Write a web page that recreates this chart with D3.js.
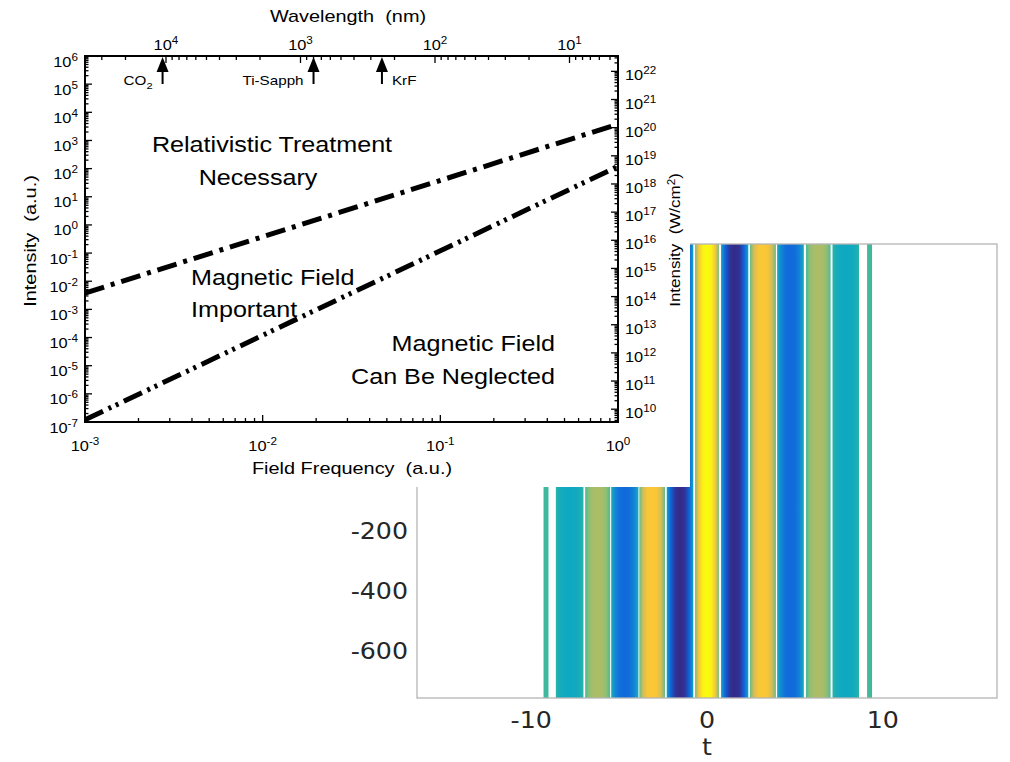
<!DOCTYPE html>
<html>
<head>
<meta charset="utf-8">
<script src="https://cdn.jsdelivr.net/npm/d3@7"></script>
<style>
  body { margin: 0; background: #fff; }
  svg { display: block; }
  text { white-space: pre; }
</style>
</head>
<body>
<div id="chart"></div>
<script>
// log-log chart (front)
var freq = [1e-3, 1];
var relativistic = [3.8e-3, 3.8e3];
var magnetic = [1.2e-7, 120];
var leftExp = [-7, -6, -5, -4, -3, -2, -1, 0, 1, 2, 3, 4, 5, 6];
var rightExp = [10, 11, 12, 13, 14, 15, 16, 17, 18, 19, 20, 21, 22];
var bottomExp = [-3, -2, -1, 0];
var topExp = [4, 3, 2, 1];
var lasers = ['CO', 'Ti-Sapph', 'KrF'];
var laserWavelength = [10600, 800, 248];
var wcm2PerAu = 3.51e16;

// heatmap (behind)
var bandStart = [-9.30, -8.60, -6.93, -5.45, -3.85, -2.29, -0.68, 0.80, 2.44, 3.99, 5.63, 7.14, 9.11];
var bandEnd   = [-9.02, -7.03, -5.51, -3.90, -2.39, -0.78, 0.68, 2.35, 3.92, 5.51, 7.03, 8.65, 9.39];
var bandValue = [0.53, 0.40, 0.69, 0.17, 0.87, 0.0, 1.0, 0.0, 0.87, 0.17, 0.69, 0.40, 0.53];
var tTicks = [-10, 0, 10];
var zTicks = [-200, -400, -600];

var width = 1010,
    height = 762,
    svg = null,
    txtFont = '"Liberation Sans", Arial, Helvetica, sans-serif';

var parula = d3.scaleLinear()
    .domain(d3.range(9).map(function(i) { return i / 8; }))
    .range(['#352a87', '#0f5cdd', '#1481d6', '#06a4ca', '#2eb7a4', '#87bf77', '#d1bb59', '#fec832', '#f9fb0e'])
    .clamp(true);

function init() {
    svg = d3.select('#chart').append('svg')
        .attr('width', width)
        .attr('height', height);
    drawHeatmap();
    // the log chart sits on a white card over the heatmap
    svg.append('rect')
        .attr('x', 0).attr('y', 0)
        .attr('width', 690).attr('height', 487)
        .attr('fill', '#fff');
    drawLogChart();
}

function drawHeatmap() {
    var hx = d3.scaleLinear().domain([-16.5, 16.5]).range([417, 997]);
    var hy = d3.scaleLinear().domain([-757, 757]).range([698, 244]);
    var defs = svg.append('defs');
    var stopPos = [0, 0.15, 0.32, 0.5, 0.68, 0.85, 1];
    var stopW = [0.2, 0.7, 0.95, 1, 0.95, 0.7, 0.2];

    bandValue.forEach(function(v, i) {
        var g = defs.append('linearGradient')
            .attr('id', 'band' + i)
            .attr('x1', '0%').attr('x2', '100%').attr('y1', '0%').attr('y2', '0%');
        stopPos.forEach(function(p, k) {
            g.append('stop')
                .attr('offset', (p * 100) + '%')
                .attr('stop-color', parula(0.5 + (v - 0.5) * stopW[k]));
        });
    });

    svg.append('g').selectAll('rect')
        .data(bandValue)
        .enter().append('rect')
        .attr('x', function(d, i) { return hx(bandStart[i]); })
        .attr('width', function(d, i) { return hx(bandEnd[i]) - hx(bandStart[i]); })
        .attr('y', hy(757))
        .attr('height', hy(-757) - hy(757))
        .attr('fill', function(d, i) { return 'url(#band' + i + ')'; });

    svg.append('rect')
        .attr('x', 417).attr('y', 244)
        .attr('width', 580).attr('height', 454)
        .attr('fill', 'none')
        .attr('stroke', '#b4b4b4')
        .attr('stroke-width', 1.3);

    var labFont = '"DejaVu Sans", Verdana, sans-serif';
    svg.append('g').selectAll('text')
        .data(tTicks)
        .enter().append('text')
        .attr('transform', function(d) { return 'translate(' + hx(d) + ',728) scale(1.1,1)'; })
        .attr('text-anchor', 'middle')
        .style('font-family', labFont).style('font-size', '23px')
        .attr('fill', '#262626')
        .text(function(d) { return d; });
    svg.append('g').selectAll('text')
        .data(zTicks)
        .enter().append('text')
        .attr('transform', function(d) { return 'translate(408,' + (hy(d) + 8.5) + ') scale(1.1,1)'; })
        .attr('text-anchor', 'end')
        .style('font-family', labFont).style('font-size', '23px')
        .attr('fill', '#262626')
        .text(function(d) { return d; });
    svg.append('text')
        .attr('transform', 'translate(' + hx(0) + ',755) scale(1.1,1)')
        .attr('text-anchor', 'middle')
        .style('font-family', labFont).style('font-size', '23px')
        .attr('fill', '#262626')
        .text('t');
}

function stretched(parent, x, y, rot, size, anchor) {
    return parent.append('text')
        .attr('transform', 'translate(' + x + ',' + y + ')' + (rot ? ' rotate(' + rot + ')' : '') + ' scale(1.17,1)')
        .attr('text-anchor', anchor || 'middle')
        .style('font-family', txtFont)
        .style('font-size', size + 'px')
        .attr('fill', '#000');
}

function powLabel(t, e) {
    t.append('tspan').text('10');
    t.append('tspan').attr('dy', -6).style('font-size', '10px').text(e);
}

function decadeMinors(lo, hi) {
    var out = [];
    for (var n = Math.floor(Math.log10(lo)); n <= Math.ceil(Math.log10(hi)); n++) {
        for (var k = 2; k < 10; k++) {
            var v = k * Math.pow(10, n);
            if (v > lo && v < hi) out.push(v);
        }
    }
    return out;
}

function drawLogChart() {
    var x = d3.scaleLog().domain([1e-3, 1]).range([85, 618]);
    var y = d3.scaleLog().domain([1e-7, 1e6]).range([422, 56]);
    var yR = d3.scaleLog().domain([1e-7 * wcm2PerAu, 1e6 * wcm2PerAu]).range([422, 56]);
    var xTop = d3.scaleLog().domain([4.0e4, 4.36]).range([85, 618]);
    var g = svg.append('g');

    // ticks
    var tk = g.append('g').attr('stroke', '#000');
    function hTicks(vals, sc, y0, len) {
        tk.selectAll(null).data(vals).enter().append('line')
            .attr('x1', function(d) { return sc(d); }).attr('x2', function(d) { return sc(d); })
            .attr('y1', y0).attr('y2', y0 + len)
            .attr('stroke-width', 1.3);
    }
    function vTicks(vals, sc, x0, len) {
        tk.selectAll(null).data(vals).enter().append('line')
            .attr('y1', function(d) { return sc(d); }).attr('y2', function(d) { return sc(d); })
            .attr('x1', x0).attr('x2', x0 + len)
            .attr('stroke-width', 1.3);
    }
    var bottomMaj = bottomExp.map(function(e) { return Math.pow(10, e); });
    var topMaj = topExp.map(function(e) { return Math.pow(10, e); });
    var leftMaj = leftExp.map(function(e) { return Math.pow(10, e); });
    var rightMaj = rightExp.map(function(e) { return Math.pow(10, e); });
    hTicks(bottomMaj, x, 422, -7);
    hTicks(decadeMinors(1e-3, 1), x, 422, -4);
    hTicks(topMaj, xTop, 56, 7);
    hTicks(decadeMinors(4.36, 4.0e4), xTop, 56, 4);
    vTicks(leftMaj, y, 85, 7);
    vTicks(decadeMinors(1e-7, 1e6), y, 85, 3.5);
    vTicks(rightMaj, yR, 618, -7);
    vTicks(decadeMinors(1e-7 * wcm2PerAu, 1e6 * wcm2PerAu), yR, 618, -3.5);

    // frame
    g.append('rect')
        .attr('x', 85).attr('y', 56)
        .attr('width', 533).attr('height', 366)
        .attr('fill', 'none')
        .attr('stroke', '#000')
        .attr('stroke-width', 2);

    // tick labels
    leftExp.forEach(function(e) {
        powLabel(stretched(g, 78, y(Math.pow(10, e)) + 10.5, 0, 14, 'end'), e);
    });
    rightExp.forEach(function(e) {
        powLabel(stretched(g, 625, yR(Math.pow(10, e)) + 9, 0, 14, 'start'), e);
    });
    bottomExp.forEach(function(e) {
        powLabel(stretched(g, x(Math.pow(10, e)), 451, 0, 14, 'middle'), e);
    });
    topExp.forEach(function(e) {
        powLabel(stretched(g, xTop(Math.pow(10, e)), 50, 0, 14, 'middle'), e);
    });

    // axis titles
    stretched(g, 348, 22, 0, 17).text('Wavelength  (nm)');
    stretched(g, 352, 474, 0, 17).text('Field Frequency  (a.u.)');
    stretched(g, 36, 241, -90, 17).text('Intensity  (a.u.)');
    var rt = stretched(g, 680, 240, -90, 14.5);
    rt.append('tspan').text('Intensity  (W/cm');
    rt.append('tspan').attr('dy', -5).style('font-size', '10px').text('2');
    rt.append('tspan').attr('dy', 5).text(')');

    // laser markers
    laserWavelength.forEach(function(w, i) {
        var ax = xTop(w);
        g.append('path')
            .attr('d', 'M' + ax + ',57 L' + (ax - 6) + ',72 L' + (ax + 6) + ',72 Z')
            .attr('fill', '#000');
        g.append('line')
            .attr('x1', ax).attr('x2', ax)
            .attr('y1', 70).attr('y2', 84)
            .attr('stroke', '#000').attr('stroke-width', 2);
        var right = i === lasers.length - 1;
        var t = stretched(g, right ? ax + 10 : ax - 10, 85, 0, 13, right ? 'start' : 'end');
        t.append('tspan').text(lasers[i]);
        if (lasers[i] === 'CO') {
            t.append('tspan').attr('dy', 4).style('font-size', '9.5px').text('2');
        }
    });

    // boundary lines
    var line = d3.line()
        .x(function(d) { return x(d[0]); })
        .y(function(d) { return y(d[1]); });
    g.append('path')
        .datum(d3.zip(freq, relativistic))
        .attr('d', line)
        .attr('fill', 'none')
        .attr('stroke', '#000')
        .attr('stroke-width', 5)
        .attr('stroke-dasharray', '20,7,4,7');
    g.append('path')
        .datum(d3.zip(freq, magnetic))
        .attr('d', line)
        .attr('fill', 'none')
        .attr('stroke', '#000')
        .attr('stroke-width', 5)
        .attr('stroke-dasharray', '20,6,3,5,3,6');

    // region annotations
    stretched(g, 272, 152, 0, 21.5).text('Relativistic Treatment');
    stretched(g, 258, 185, 0, 21.5).text('Necessary');
    stretched(g, 191, 285, 0, 21.5, 'start').text('Magnetic Field');
    stretched(g, 191, 317, 0, 21.5, 'start').text('Important');
    stretched(g, 555, 351, 0, 21.5, 'end').text('Magnetic Field');
    stretched(g, 555, 384, 0, 21.5, 'end').text('Can Be Neglected');
}

init();
</script>
</body>
</html>
